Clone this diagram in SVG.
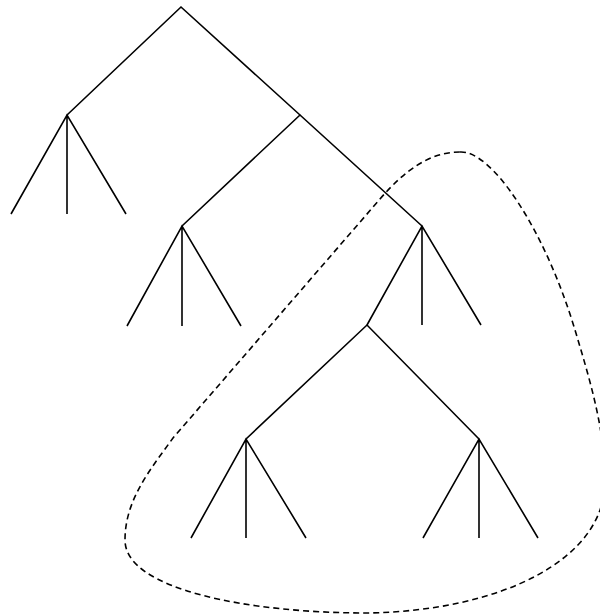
<svg xmlns="http://www.w3.org/2000/svg" width="600" height="616" viewBox="0 0 600 616">
<style>
.e{stroke:#000;stroke-width:1.6;fill:none;stroke-linecap:butt;stroke-linejoin:miter}
.d{stroke:#000;stroke-width:1.6;fill:none;stroke-dasharray:6 4}
</style>
<rect width="600" height="616" fill="#fff"/>
<g id="connectors">
<path class="e" d="M67 115 L181 7 L300 115"/>
<path class="e" d="M11 214 L67 115 L126 214 M67 115 V214"/>
<path class="e" d="M182 226 L300 115 L422 226"/>
<path class="e" d="M127 326 L182 226 L241 326 M182 226 V326"/>
<path class="e" d="M367 325 L422 226 L481 325 M422 226 V325"/>
<path class="e" d="M246 439 L367 325 L479 439"/>
<path class="e" d="M191 538 L246 439 L306 538 M246 439 V538"/>
<path class="e" d="M423 538 L479 439 L538 538 M479 439 V538"/>
</g>
<g id="region">
<path class="d" d="M460 152 C492 150 545 230 575 330 C590 380 605 430 605 480 C606 560 500 611 367 613 C250 613 125 590 125 540 C125 500 150 470 173 438 L380 199 C405 170 430 152 460 152 Z"/>
</g>
</svg>
